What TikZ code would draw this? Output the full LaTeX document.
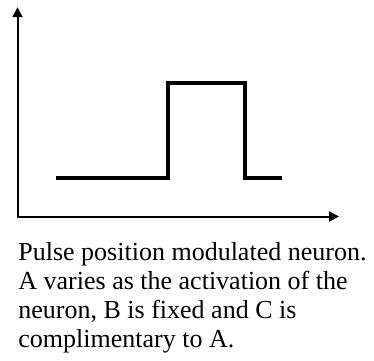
\documentclass[tikz,border=0pt]{standalone}
\usepackage{fontspec}
\setmainfont{Liberation Serif}
\usetikzlibrary{arrows.meta}
\begin{document}
\begin{tikzpicture}[x=1pt,y=1pt]
\useasboundingbox (0,0) rectangle (187,180);
\coordinate (ytip) at (8.75,176.4);
\coordinate (xtip) at (169.5,71.75);
\draw[line width=1pt,{Triangle[length=5pt,width=5pt]}-{Triangle[length=5pt,width=5pt]}] (ytip) |- (xtip);

\draw[line width=2pt] (27.85,90.85) -- (84,90.85) -- (84,138.65) -- (122.5,138.65) -- (122.5,90.85) -- (141,90.85);

\node[anchor=base west,inner sep=0pt,font=\fontsize{13}{14.65}\selectfont] (caption) at (9,50)
  {\begin{tabular}[t]{@{}l@{}}Pulse position modulated neuron.\\A varies as the activation of the\\neuron, B is fixed and C is\\complimentary to A.\end{tabular}};
\end{tikzpicture}
\end{document}
